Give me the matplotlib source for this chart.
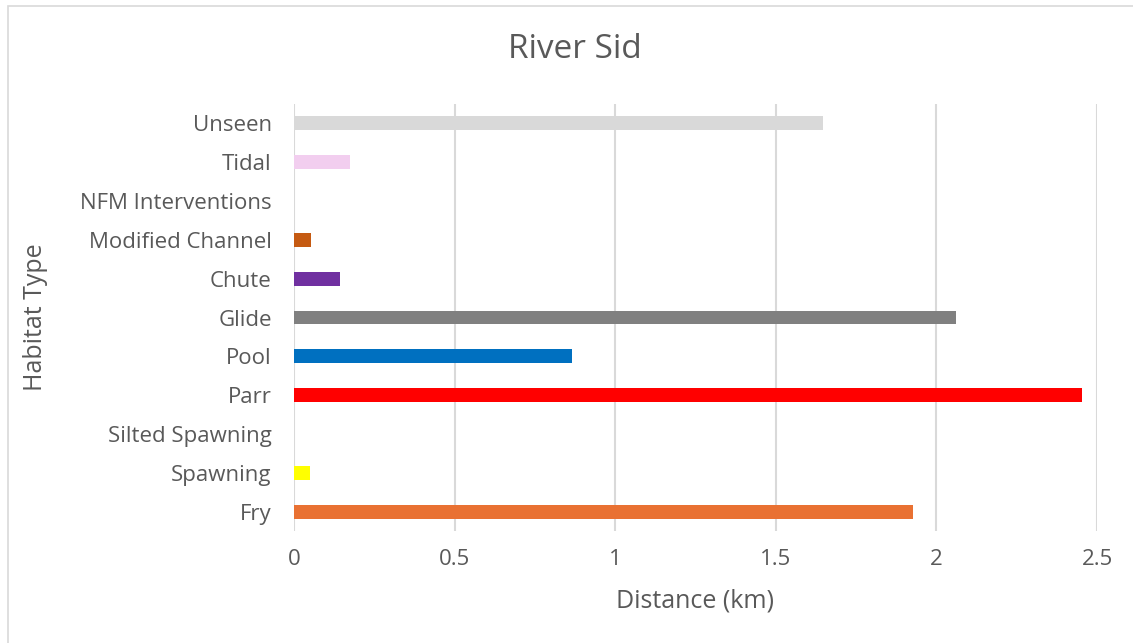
import matplotlib.pyplot as plt
from matplotlib.patches import Rectangle

# Habitat lengths along the River Sid (km)
habitats = ['Fry', 'Spawning', 'Silted Spawning', 'Parr', 'Pool', 'Glide',
            'Chute', 'Modified Channel', 'NFM Interventions', 'Tidal', 'Unseen']
distance_km = [1.928, 0.049, 0.0, 2.452, 0.864, 2.061,
               0.144, 0.053, 0.0, 0.175, 1.647]
bar_colors = ['#E97132', '#FFFF00', '#A6A6A6', '#FF0000', '#0070C0', '#808080',
              '#7030A0', '#C55A11', '#70AD47', '#F2CEEF', '#D9D9D9']
x_ticks = [0, 0.5, 1, 1.5, 2, 2.5]

text_color = '#595959'
grid_color = '#D9D9D9'
plt.rcParams['font.family'] = ['Open Sans', 'DejaVu Sans']

W, H = 1133, 643
fig = plt.figure(figsize=(W / 100, H / 100), dpi=100)
ax_left, ax_right, ax_top, ax_bottom = 294, 1097, 104, 531
ax = fig.add_axes([ax_left / W, 1 - ax_bottom / H,
                   (ax_right - ax_left) / W, (ax_bottom - ax_top) / H])

ax.barh(range(len(habitats)), distance_km, height=0.36, color=bar_colors, zorder=3)

ax.set_xlim(0, 2.5)
ax.set_ylim(-0.5, len(habitats) - 0.5)
ax.set_xticks(x_ticks)
ax.set_xticklabels([f'{t:g}' for t in x_ticks])
ax.set_yticks(range(len(habitats)))
ax.set_yticklabels(habitats)
ax.tick_params(axis='both', length=0, labelsize=16, colors=text_color)
ax.tick_params(axis='x', pad=13)
ax.tick_params(axis='y', pad=16)
ax.grid(axis='x', color=grid_color, linewidth=1.5, zorder=0)
for side in ax.spines.values():
    side.set_visible(False)

ax.set_xlabel('Distance (km)', fontsize=18, color=text_color, va='center')
ax.xaxis.set_label_coords(0.5, -(601 - ax_bottom) / (ax_bottom - ax_top))
ax.set_ylabel('Habitat Type', fontsize=18, color=text_color, va='center')
ax.yaxis.set_label_coords(-(ax_left - 35) / (ax_right - ax_left), 0.5)

fig.text(575 / W, 1 - 50 / H, 'River Sid', fontsize=24, color=text_color,
         ha='center', va='center')

# light frame round the chart area
fig.patches.append(Rectangle((8 / W, -0.01), 1.02, 1 - 6 / H + 0.01,
                             transform=fig.transFigure, fill=False,
                             edgecolor='#D9D9D9', linewidth=1.2))

fig.savefig('out.png', dpi=100, facecolor='white')
